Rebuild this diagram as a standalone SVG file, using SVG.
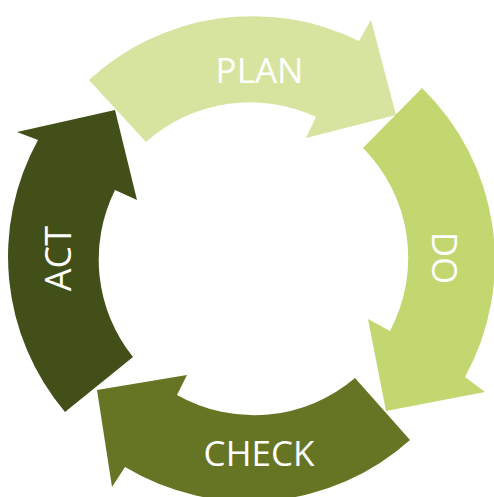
<svg xmlns="http://www.w3.org/2000/svg" width="494" height="497" viewBox="0 0 494 497">
<style>
.lbl{font-family:"Open Sans","Noto Sans","Liberation Sans",sans-serif;font-size:35px;fill:#ffffff;text-anchor:middle}
</style>
<rect width="494" height="497" fill="#ffffff"/>
<g id="plan">
<path fill="#D7E4A0" d="M89,80 A241,241 0 0 1 359,41 L371,20 L396,115 L306,138 L316,117 A156,156 0 0 0 146,142 Z"/>
<text class="lbl" x="259.5" y="83">PLAN</text>
</g>
<g id="do">
<path fill="#C2D76F" d="M422,88 A241,241 0 0 1 465,377 L485,392 L386,411 L368,319 L390,331 A156,156 0 0 0 363,148 Z"/>
<text class="lbl" transform="translate(432,258) rotate(90)">DO</text>
</g>
<g id="check">
<path fill="#667523" d="M410,440 A241,241 0 0 1 125,467 L112,487 L97,390 L187,375 L177,395 A156,156 0 0 0 355,378 Z"/>
<text class="lbl" x="259" y="466">CHECK</text>
</g>
<g id="act">
<path fill="#434F18" d="M65,412 A241,241 0 0 1 38,140 L17,132 L115,110 L137,200 L115,190 A156,156 0 0 0 133,357 Z"/>
<text class="lbl" style="font-size:36px" transform="translate(71,258.5) rotate(-90)">ACT</text>
</g>
</svg>
